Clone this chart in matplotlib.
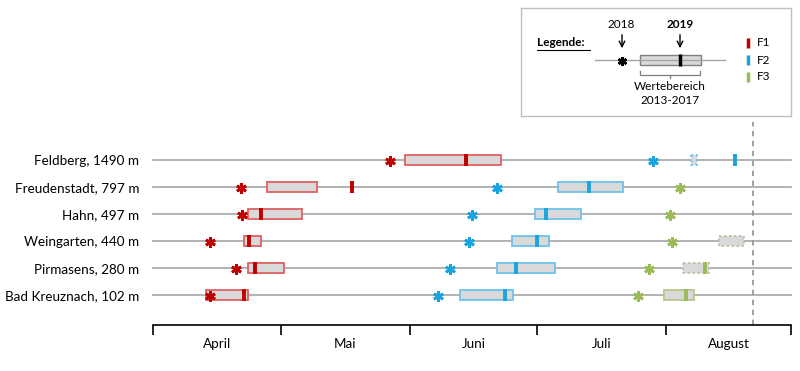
import numpy as np
import matplotlib.pyplot as plt
from matplotlib.patches import Rectangle

plt.rcParams['font.family'] = ['Lato', 'DejaVu Sans']

# days counted from 1 April (0) to 1 September (153)
stations = ['Feldberg, 1490 m', 'Freudenstadt, 797 m', 'Hahn, 497 m',
            'Weingarten, 440 m', 'Pirmasens, 280 m', 'Bad Kreuznach, 102 m']

f1_2018 = [56.8, 21.0, 21.4, 13.7, 20.0, 13.7]
f1_low = [60.4, 27.3, 22.9, 21.9, 22.8, 12.8]
f1_high = [83.5, 39.4, 35.7, 25.9, 31.5, 22.9]
f1_2019 = [75.0, 47.8, 25.8, 23.0, 24.4, 21.8]
f1_dashed = [False, False, False, False, False, False]

f2_2018 = [119.9, 82.4, 76.4, 75.9, 71.3, 68.3]
f2_low = [128.9, 97.1, 91.7, 86.1, 82.6, 73.7]
f2_high = [130.4, 112.8, 102.6, 95.0, 96.3, 86.4]
f2_2019 = [139.6, 104.6, 94.2, 92.1, 87.1, 84.5]
f2_dashed = [True, False, False, False, False, False]

nan = np.nan
f3_2018 = [nan, 126.5, 124.0, 124.4, 119.0, 116.2]
f3_low = [nan, nan, nan, 135.8, 127.2, 122.5]
f3_high = [nan, nan, nan, 141.8, 133.3, 129.7]
f3_2019 = [nan, nan, nan, nan, 132.4, 127.8]
f3_dashed = [False, False, False, True, True, False]

months = ['April', 'Mai', 'Juni', 'Juli', 'August']
month_starts = [0, 30.7, 61.6, 92.1, 123, 153]
today = 144

phases = [
    (f1_2018, f1_low, f1_high, f1_2019, f1_dashed, '#c00000', '#e06060'),
    (f2_2018, f2_low, f2_high, f2_2019, f2_dashed, '#1aa3dc', '#6cc3ea'),
    (f3_2018, f3_low, f3_high, f3_2019, f3_dashed, '#9bbb59', '#b5c98a'),
]

fig = plt.figure(figsize=(8, 3.71), dpi=100)
ax = fig.add_axes([153 / 800, 1 - 325 / 371, 638 / 800, 180 / 371])
ax.set_xlim(month_starts[0], month_starts[-1])
ax.set_ylim(6.11, -0.556)

rows = np.arange(len(stations))
for r in rows:
    ax.plot([month_starts[0], month_starts[-1]], [r, r], color='#a6a6a6', lw=1.2, zorder=1,
            clip_on=False)

bh = 0.37
for s18, lo, hi, s19, dashed, col, edge in phases:
    for r in rows:
        if not np.isnan(lo[r]):
            if dashed[r]:
                ec = edge if col != '#9bbb59' else '#b8bfa0'
                ax.add_patch(Rectangle((lo[r], r - bh / 2), hi[r] - lo[r], bh, fc='#d9d9d9',
                                       ec=ec, lw=1.2, ls=(0, (1.5, 1.5)), zorder=2))
            else:
                ax.add_patch(Rectangle((lo[r], r - bh / 2), hi[r] - lo[r], bh, fc='#d9d9d9',
                                       ec=edge, lw=1.3, zorder=2))
        if not np.isnan(s19[r]):
            ax.plot([s19[r], s19[r]], [r - 0.22, r + 0.22], color=col, lw=2.8,
                    solid_capstyle='butt', zorder=3)
        if not np.isnan(s18[r]):
            ax.plot(s18[r], r + 0.05, marker=(6, 2, 0), ms=7.5, mew=2, color=col, zorder=4)

ax.axvline(today, ymin=0, ymax=1.128, color='#999999', lw=1.3, ls=(0, (3, 2.5)),
           clip_on=False, zorder=1)

for sp in ['top', 'right', 'left']:
    ax.spines[sp].set_visible(False)
ax.spines['bottom'].set_linewidth(1.2)
ax.set_yticks(rows)
ax.set_yticklabels(stations, fontsize=9.7)
ax.tick_params(axis='y', length=0, pad=10)
ax.set_xticks(month_starts)
ax.set_xticklabels([])
ax.tick_params(axis='x', which='major', length=7, width=1.2, direction='out')
mids = [(a + b) / 2 for a, b in zip(month_starts[:-1], month_starts[1:])]
ax.set_xticks(mids, minor=True)
ax.set_xticklabels(months, minor=True, fontsize=9.7)
ax.tick_params(axis='x', which='minor', length=0, pad=9)

# legend panel (pixel coordinates)
lg = fig.add_axes([521 / 800, 1 - 116 / 371, 270 / 800, 108 / 371])
lg.set_xlim(521, 791)
lg.set_ylim(116, 8)
lg.set_xticks([])
lg.set_yticks([])
for sp in lg.spines.values():
    sp.set_color('#bfbfbf')
    sp.set_linewidth(1)
lg.text(537, 43, 'Legende:', fontsize=8.5, fontweight='bold', va='center', ha='left')
lg.plot([537, 590], [49.5, 49.5], color='black', lw=0.8)
lg.plot([595, 725], [60, 60], color='#a6a6a6', lw=1)
lg.add_patch(Rectangle((640, 55), 61, 10, fc='#d9d9d9', ec='#7f7f7f', lw=1))
lg.plot([680, 680], [54, 66], color='black', lw=2.5, solid_capstyle='butt')
lg.plot(622, 61, marker=(6, 2, 0), ms=6.5, mew=1.8, color='black')
lg.text(621, 25, '2018', fontsize=8.5, ha='center', va='center')
lg.text(680, 25, '2019', fontsize=8.5, fontweight='bold', ha='center', va='center')
lg.annotate('', xy=(622, 51), xytext=(622, 32), arrowprops=dict(arrowstyle='->', lw=1, color='black'))
lg.annotate('', xy=(680, 51), xytext=(680, 32), arrowprops=dict(arrowstyle='->', lw=1, color='black'))
lg.plot([640, 640, 700, 700], [71, 75, 75, 71], color='#7f7f7f', lw=0.9)
lg.plot([670, 670], [75, 78], color='#7f7f7f', lw=0.9)
lg.text(670, 87, 'Wertebereich', fontsize=8.5, ha='center', va='center')
lg.text(670, 101, '2013-2017', fontsize=8.5, ha='center', va='center')
for yy, name, (_, _, _, _, _, col, _) in zip([43, 60, 77], ['F1', 'F2', 'F3'], phases):
    lg.plot([748, 748], [yy - 5, yy + 5], color=col, lw=2.5, solid_capstyle='butt')
    lg.text(757, yy, name, fontsize=8.5, va='center', ha='left')

fig.savefig('out.png', dpi=100)
